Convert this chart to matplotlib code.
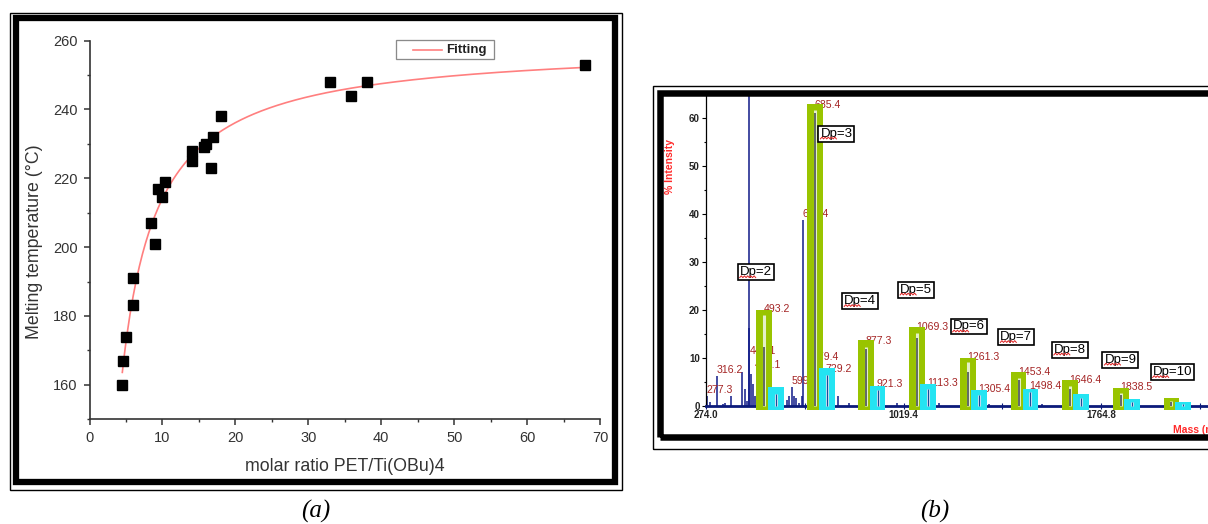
import numpy as np
import matplotlib
matplotlib.use("Agg")
import matplotlib.pyplot as plt
from matplotlib.patches import Rectangle
from matplotlib.lines import Line2D
from matplotlib.ticker import MultipleLocator, FixedLocator

W, H = 1208, 524

# (a) melting temperature against PET/Ti(OBu)4 molar ratio
ratio = [4.5, 4.6, 5.0, 6.0, 6.0, 8.5, 9.0, 9.4, 10.0, 10.4, 14.0, 14.1,
         15.7, 16.0, 16.9, 16.6, 18.0, 33.0, 35.8, 38.0, 67.9]
tm = [160, 167, 174, 183.3, 191, 207, 201, 217, 214.5, 219, 228, 225,
      229, 230, 232, 223, 238, 248, 244, 248, 253]

# (b) MALDI-TOF spectrum
dp = [2, 3, 4, 5, 6, 7, 8, 9, 10]
main_mass = [493.2, 685.4, 877.3, 1069.3, 1261.3, 1453.4, 1646.4, 1838.5, 2030.5]
main_box = [20.0, 62.8, 13.6, 16.4, 10.0, 7.1, 5.4, 3.7, 1.6]
main_peak = [18.8, 61.5, 12.3, 15.2, 9.0, 5.8, 4.1, 2.6, 1.0]
main_dark = [12.2, 61.0, 11.8, 14.0, 7.0, 5.3, 3.5, 2.3, 0.8]
side_mass = [537.2, 729.2, 921.3, 1113.3, 1305.4, 1498.4, 1690.4, 1882.5, 2074.5]
side_box = [3.8, 7.8, 4.2, 4.5, 3.3, 3.5, 2.4, 1.4, 0.7]
side_peak = [2.5, 6.3, 3.2, 3.5, 2.2, 2.8, 1.5, 0.8, 0.4]

peak_mass = [277.3, 289, 316.2, 338.6, 345.7, 366.8, 409.5, 420.8, 427.8, 434.8,
             437.7, 444.7, 451.8, 458.9, 579.3, 589, 599.3, 607.5, 614.4, 625.7,
             636, 641.4, 771.5, 812.5, 996.6, 1152, 1343, 1541]
peak_int = [2.1, 0.8, 6.2, 0.4, 0.5, 2.1, 7.0, 3.5, 1.0, 100,
            16.2, 6.5, 4.5, 2.0, 1.2, 2.0, 3.8, 2.0, 1.5, 0.6,
            2.1, 38.6, 2.0, 0.5, 0.5, 0.5, 0.4, 0.4]

label_text = ["277.3", "316.2", "441.1", "461.1", "599.3", "641.4", "679.4",
              "493.2", "685.4", "877.3", "1069.3", "1261.3", "1453.4", "1646.4", "1838.5",
              "729.2", "921.3", "1113.3", "1305.4", "1498.4"]
label_mass = [277.3, 316.2, 441.1, 461.1, 599.3, 641.4, 679.4,
              493.2, 685.4, 877.3, 1069.3, 1261.3, 1453.4, 1646.4, 1838.5,
              729.2, 921.3, 1113.3, 1305.4, 1498.4]
label_int = [2.1, 6.2, 10.2, 7.3, 3.8, 38.6, 9.0,
             18.8, 61.5, 12.3, 15.2, 9.0, 5.8, 4.1, 2.6,
             6.3, 3.2, 3.5, 2.2, 2.8]

dp_mass = [461.5, 766, 856, 1067, 1265, 1445, 1647, 1838, 2034]
dp_int = [27.8, 56.7, 21.8, 24.2, 16.5, 14.3, 11.7, 9.6, 7.0]

x_major = [274.0, 1019.4, 1764.8]


def px_axes(x0, y0, x1, y1):
    return fig.add_axes([x0 / W, 1 - y1 / H, (x1 - x0) / W, (y1 - y0) / H])


def frame(x0, y0, x1, y1, lw_px, fill=False, ec="black", z=6):
    fig.add_artist(Rectangle((x0 / W, 1 - y1 / H), (x1 - x0) / W, (y1 - y0) / H,
                             transform=fig.transFigure, fill=fill, fc="white", ec=ec,
                             lw=lw_px * 0.72, zorder=z))


fig = plt.figure(figsize=(W / 100, H / 100), dpi=100)
sans = ["Liberation Sans", "DejaVu Sans"]
narrow = ["Liberation Sans Narrow", "Liberation Sans", "DejaVu Sans"]

# ---------- (a) ----------
ax1 = px_axes(89.5, 40.5, 600, 419.3)
ax1.set_xlim(0, 70)
ax1.set_ylim(150, 260)
for s in ["top", "right"]:
    ax1.spines[s].set_visible(False)
for s in ["left", "bottom"]:
    ax1.spines[s].set_color("#333333")
    ax1.spines[s].set_linewidth(1.2)
ax1.xaxis.set_major_locator(MultipleLocator(10))
ax1.xaxis.set_minor_locator(MultipleLocator(5))
ax1.yaxis.set_major_locator(MultipleLocator(20))
ax1.yaxis.set_minor_locator(MultipleLocator(10))
ax1.tick_params(which="major", length=4.5, width=1.1, color="#333333",
                labelsize=10.5, labelcolor="#333333", pad=4)
ax1.tick_params(which="minor", length=2.5, width=1.0, color="#333333")
for lab in ax1.get_xticklabels() + ax1.get_yticklabels():
    lab.set_fontfamily(sans)

# fit of Tm against 1/ratio
coef = np.polyfit(1 / np.array(ratio), tm, 2)
xf = np.linspace(min(ratio), max(ratio), 300)
fit_color = "#ff7f7f"
ax1.plot(xf, np.polyval(coef, 1 / xf), color=fit_color, lw=1.2, zorder=2)
ax1.plot(ratio, tm, ls="none", marker="s", ms=6.5, color="black", zorder=3)

# legend box
frame(396, 40.3, 494, 58.7, 1.3, fill=True, ec="#8a8a8a", z=3)
fig.add_artist(Line2D([413 / W, 442 / W], [1 - 49.5 / H] * 2, color=fit_color, lw=1.2,
                      transform=fig.transFigure, zorder=4))
fig.text(446 / W, 1 - 49.5 / H, "Fitting", ha="left", va="center", fontsize=9.5,
         weight="bold", family=sans, color="#222222", zorder=4)

fig.text(35 / W, 1 - 241.7 / H, "Melting temperature (°C)", rotation=90,
         ha="center", va="center", fontsize=12.8, family=sans, color="#333333")
fig.text(344.4 / W, 1 - 466.7 / H, "molar ratio PET/Ti(OBu)4",
         ha="center", va="center", fontsize=12.8, family=sans, color="#333333")

# ---------- (b) ----------
ax2 = px_axes(663.3, 95.7, 1208, 433)
ax2.set_xlim(112.9, 2168.3)
ax2.set_ylim(-5.69, 64.58)
ax2.spines["top"].set_visible(False)
ax2.spines["right"].set_visible(False)
ax2.spines["left"].set_position(("data", 274.0))
ax2.spines["left"].set_bounds(0, 64.58)
ax2.spines["left"].set_linewidth(0.9)
ax2.spines["bottom"].set_position(("data", 0))
ax2.spines["bottom"].set_bounds(274.0, 2168.3)
ax2.spines["bottom"].set_color("#0b1a7a")
ax2.spines["bottom"].set_linewidth(2.0)
ax2.yaxis.set_major_locator(FixedLocator(range(0, 61, 10)))
ax2.yaxis.set_minor_locator(FixedLocator(range(5, 65, 10)))
ax2.xaxis.set_major_locator(FixedLocator(x_major))
ax2.xaxis.set_minor_locator(FixedLocator([(a + b) / 2 for a, b in zip(x_major, x_major[1:] + [2510.2])]))
ax2.set_xticklabels([f"{v:.1f}" for v in x_major])
ax2.tick_params(axis="y", which="major", length=3, width=0.8, labelsize=7, pad=1.5)
ax2.tick_params(axis="y", which="minor", length=1.8, width=0.8)
ax2.tick_params(axis="x", which="both", direction="inout", length=4, width=0.8,
                color="#0b1a7a", labelsize=7, pad=1)
for lab in ax2.get_xticklabels() + ax2.get_yticklabels():
    lab.set_fontfamily(narrow)
    lab.set_fontweight("bold")
    lab.set_color("#222222")

ax2.vlines(peak_mass, 0, peak_int, color="#101a88", lw=1.1, zorder=2)
for t, m, v in zip(label_text, label_mass, label_int):
    ax2.text(m - 3, v + 0.2, t, color="#a42424", fontsize=7.6, family=sans,
             ha="left", va="bottom", zorder=3)

bar_w = 60
ax2.bar(main_mass, np.array(main_box) + 0.9, bottom=-0.9, width=bar_w,
        color="#99c400", zorder=4)
ax2.bar(side_mass, np.array(side_box) + 0.9, bottom=-0.9, width=bar_w,
        color="#24e4f2", zorder=5)
ax2.vlines(main_mass, 0, main_peak, color="#e4f0c8", lw=2.2, zorder=6)
ax2.vlines(main_mass, 0, main_dark, color="#3c444c", lw=1.1, zorder=7)
ax2.vlines(side_mass, 0, side_peak, color="#e8fbff", lw=2.2, zorder=6)
ax2.vlines(side_mass, 0, side_peak, color="#1a4c9a", lw=1.0, zorder=7)

dp_texts = []
for n, m, v in zip(dp, dp_mass, dp_int):
    dp_texts.append(ax2.text(m, v, f"Dp={n}", fontsize=9.5, family=sans, ha="center",
                             va="center", zorder=8,
                             bbox=dict(boxstyle="square,pad=0.15", fc="white",
                                       ec="black", lw=1.2)))

fig.text(670 / W, 1 - 167 / H, "% Intensity", rotation=90, ha="center", va="center",
         color="#ff2a2a", fontsize=7.5, family=narrow, weight="bold")
fig.text(1173 / W, 1 - 430 / H, "Mass (m/z)", ha="left", va="center",
         color="#ff2a2a", fontsize=7.5, family=narrow, weight="bold")

# red spell-check squiggle under each "Dp"
fig.canvas.draw()
r = fig.canvas.get_renderer()
tmp = ax2.text(0, 0, "Dp", fontsize=9.5, family=sans)
w_dp = tmp.get_window_extent(r).width
tmp.remove()
for t in dp_texts:
    bb = t.get_window_extent(r)
    xs = np.arange(bb.x0, bb.x0 + w_dp + 0.1, 1.6)
    ys = bb.y0 + 1.5 + np.where(np.arange(len(xs)) % 2 == 0, -0.9, 0.9)
    fig.add_artist(Line2D(xs / W, ys / H, color="#e02020", lw=0.7,
                          transform=fig.transFigure, zorder=5))

# double borders
frame(10, 12.7, 621.8, 489.5, 1.4)
frame(15.7, 18.3, 615.3, 482.2, 6.3)
frame(652.7, 86, 1260, 449.3, 1.4)
frame(660, 92.5, 1260, 436.8, 6.5)

fig.text(316 / W, 1 - 511 / H, "(a)", ha="center", va="center", fontsize=18,
         family=["Liberation Serif", "DejaVu Serif"], style="italic")
fig.text(935 / W, 1 - 511 / H, "(b)", ha="center", va="center", fontsize=18,
         family=["Liberation Serif", "DejaVu Serif"], style="italic")

fig.savefig("out.png", dpi=100)
